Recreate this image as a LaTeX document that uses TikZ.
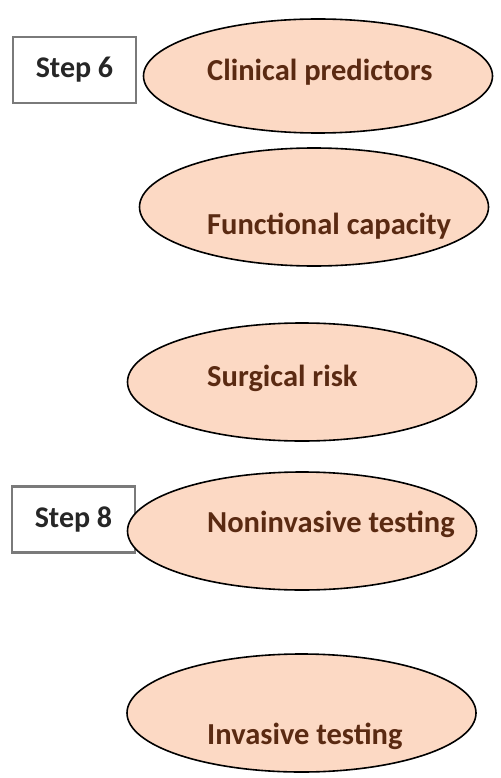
\documentclass[tikz,border=0pt]{standalone}
\usepackage{fontspec}
\setmainfont{Carlito}
\usepackage{xcolor}
\definecolor{Peach}{HTML}{FCD9C4}
\definecolor{DarkBrown}{HTML}{5A2A12}
\definecolor{BoxGray}{HTML}{7A7A7A}
\usepackage{tikz}
\usetikzlibrary{shapes.geometric}

\tikzset{
  stepbox/.style={draw=BoxGray, line width=2.4pt, fill=white, minimum width=123pt, minimum height=66pt, inner sep=0pt, font=\fontsize{30}{36}\selectfont\bfseries, text=black!85},
  oval/.style={ellipse, draw=black, line width=1.6pt, fill=Peach, minimum width=349pt, minimum height=118pt, inner sep=0pt},
  ovaltext/.style={anchor=base west, inner sep=0pt, font=\fontsize{30.5}{36}\selectfont\bfseries, text=DarkBrown}
}

\begin{document}
\begin{tikzpicture}[x=1pt, y=-1pt]
    \useasboundingbox (0,0) rectangle (500,778);

    \node[stepbox] (step6) at (74.5,70) {Step 6};
    \node[stepbox] (step8) at (73.5,519.5) {Step 8};

    \node[oval, minimum height=114pt] (clinical) at (318,76) {};
    \node[oval] (functional) at (314,207) {};
    \node[oval] (surgical) at (302,382) {};
    \node[oval] (noninvasive) at (302,531) {};
    \node[oval] (invasive) at (301.5,713) {};

    \node[ovaltext] (clinicaltext) at (207,81) {Clinical predictors};
    \node[ovaltext] (functionaltext) at (207,234) {Functional capacity};
    \node[ovaltext] (surgicaltext) at (207,386) {Surgical risk};
    \node[ovaltext] (noninvasivetext) at (207,532) {Noninvasive testing};
    \node[ovaltext] (invasivetext) at (207,744) {Invasive testing};
\end{tikzpicture}
\end{document}
